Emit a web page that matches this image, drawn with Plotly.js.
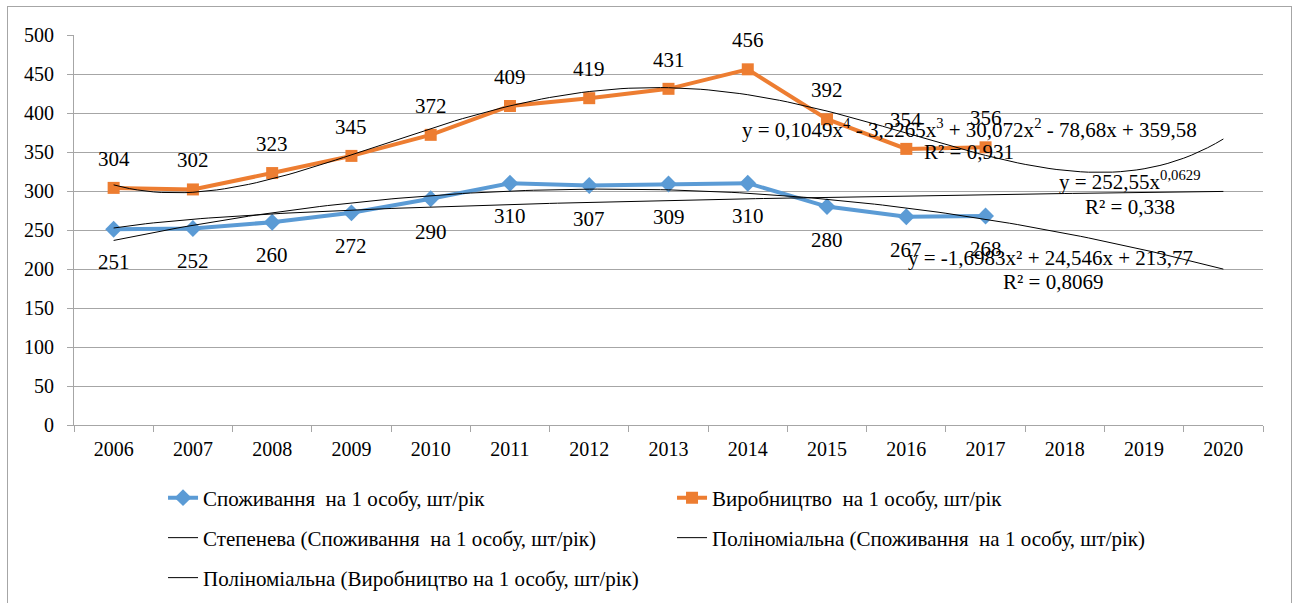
<!DOCTYPE html>
<html><head><meta charset="utf-8">
<script src="https://cdn.plot.ly/plotly-3.0.1.min.js"></script>
<style>
html,body{margin:0;padding:0;background:#fff;}
#chart{width:1298px;height:603px;position:absolute;left:0;top:0;}
#frame{position:absolute;left:7px;top:6px;width:1283px;height:600px;border:1px solid #a6a6a6;pointer-events:none;}
</style></head><body>
<div id="chart"></div><div id="frame"></div>
<script>
// ---- data ----
const years = ['2006','2007','2008','2009','2010','2011','2012','2013','2014','2015','2016','2017','2018','2019','2020'];
const consumption = [251,252,260,272,290,310,307,309,310,280,267,268];
const production  = [304,302,323,345,372,409,419,431,456,392,354,356];
// trendline coefficients as displayed on the chart
const powerCoef = [252.55, 0.0629];                          // y = a*x^b
const poly2Coef = [213.77, 24.546, -1.6983];                 // c0 + c1 x + c2 x^2
const poly4Coef = [359.58, -78.68, 30.072, -3.2265, 0.1049]; // c0..c4
const seriesNames = ['Споживання\u00a0 на 1 особу, шт/рік', 'Виробництво\u00a0 на 1 особу, шт/рік'];
const trendNames = ['Степенева (Споживання\u00a0 на 1 особу, шт/рік)', 'Поліноміальна (Споживання\u00a0 на 1 особу, шт/рік)', 'Поліноміальна (Виробництво на 1 особу, шт/рік)'];
const eqPoly4 = 'y = 0,1049x<sup>4</sup> - 3,2265x<sup>3</sup> + 30,072x<sup>2</sup> - 78,68x + 359,58';
const r2Poly4 = 'R² = 0,931';
const eqPower = 'y = 252,55x<sup>0,0629</sup>';
const r2Power = 'R² = 0,338';
const eqPoly2 = 'y = -1,6983x² + 24,546x + 213,77';
const r2Poly2 = 'R² = 0,8069';

// ---- build ----
const idx = consumption.map((_, i) => i + 1);
const tx = [];
for (let k = 0; k <= 140; k++) tx.push(1 + k * 0.1);
const polyEval = (c, x) => c.reduce((s, ci, p) => s + ci * Math.pow(x, p), 0);
const powY = tx.map(x => powerCoef[0] * Math.pow(x, powerCoef[1]));
const p2Y = tx.map(x => polyEval(poly2Coef, x));
const p4Y = tx.map(x => polyEval(poly4Coef, x));

const FONT = 'Liberation Serif';
const BLUE = '#5B9BD5', ORANGE = '#ED7D31';
const traces = [
  {x: idx, y: consumption, name: seriesNames[0], type: 'scatter', mode: 'lines+markers',
   line: {color: BLUE, width: 4}, marker: {symbol: 'diamond', size: 13, color: BLUE}, legend: 'legend'},
  {x: idx, y: production, name: seriesNames[1], type: 'scatter', mode: 'lines+markers',
   line: {color: ORANGE, width: 4}, marker: {symbol: 'square', size: 12, color: ORANGE}, legend: 'legend'},
  {x: tx, y: powY, name: trendNames[0], type: 'scatter', mode: 'lines', line: {color: '#000', width: 1}, legend: 'legend2'},
  {x: tx, y: p2Y, name: trendNames[1], type: 'scatter', mode: 'lines', line: {color: '#000', width: 1}, legend: 'legend2'},
  {x: tx, y: p4Y, name: trendNames[2], type: 'scatter', mode: 'lines', line: {color: '#000', width: 1}, legend: 'legend3'}
];

const annots = [];
consumption.forEach((v, i) => annots.push({x: i + 1, y: v, xref: 'x', yref: 'y', text: String(v), showarrow: false, yshift: -33, font: {family: FONT, size: 21, color: '#000'}}));
production.forEach((v, i) => annots.push({x: i + 1, y: v, xref: 'x', yref: 'y', text: String(v), showarrow: false, yshift: 29, font: {family: FONT, size: 21, color: '#000'}}));
const eqs = [
  [eqPoly4, 0.7531, 0.7615], [r2Poly4, 0.7527, 0.6990],
  [eqPower, 0.8881, 0.6260], [r2Power, 0.8881, 0.5600],
  [eqPoly2, 0.8209, 0.4270], [r2Poly2, 0.8234, 0.3667]
];
eqs.forEach(e => annots.push({x: e[1], y: e[2], xref: 'paper', yref: 'paper', text: e[0], showarrow: false, xanchor: 'center', yanchor: 'middle', font: {family: FONT, size: 21, color: '#000'}}));

const legBase = {orientation: 'h', xref: 'container', yref: 'container', xanchor: 'left', yanchor: 'middle',
  entrywidth: 464, entrywidthmode: 'pixels',
  font: {family: FONT, size: 21, color: '#000'}, bgcolor: 'rgba(0,0,0,0)', x: 0.1256};

const layout = {
  width: 1298, height: 603,
  margin: {l: 74, r: 35, t: 35, b: 178},
  paper_bgcolor: '#fff', plot_bgcolor: '#fff',
  font: {family: FONT, color: '#000', size: 20},
  showlegend: true,
  xaxis: {range: [0.5, 15.5], tickmode: 'array', tickvals: years.map((_, i) => i + 1), ticktext: years,
    ticks: '', showgrid: false, zeroline: false, showline: true, linecolor: '#a6a6a6', linewidth: 1,
    tickfont: {family: FONT, size: 20, color: '#000'}, ticklabelstandoff: 6, automargin: false,
    minor: {tickmode: 'linear', tick0: 0.5, dtick: 1, ticks: 'outside', ticklen: 6, tickcolor: '#a6a6a6', tickwidth: 1, showgrid: false},
    fixedrange: true},
  yaxis: {range: [0, 500], tickmode: 'linear', tick0: 0, dtick: 50, showgrid: true, gridcolor: '#a6a6a6', gridwidth: 1,
    zeroline: false, showline: true, linecolor: '#a6a6a6', ticks: 'outside', ticklen: 6, tickcolor: '#a6a6a6',
    tickfont: {family: FONT, size: 20, color: '#000'}, ticklabelstandoff: 9, automargin: false, fixedrange: true},
  legend: Object.assign({}, legBase, {y: 0.1741}),
  legend2: Object.assign({}, legBase, {y: 0.1078}),
  legend3: Object.assign({}, legBase, {y: 0.0415}),
  annotations: annots
};
Plotly.newPlot('chart', traces, layout, {staticPlot: true, displayModeBar: false});
</script></body></html>
